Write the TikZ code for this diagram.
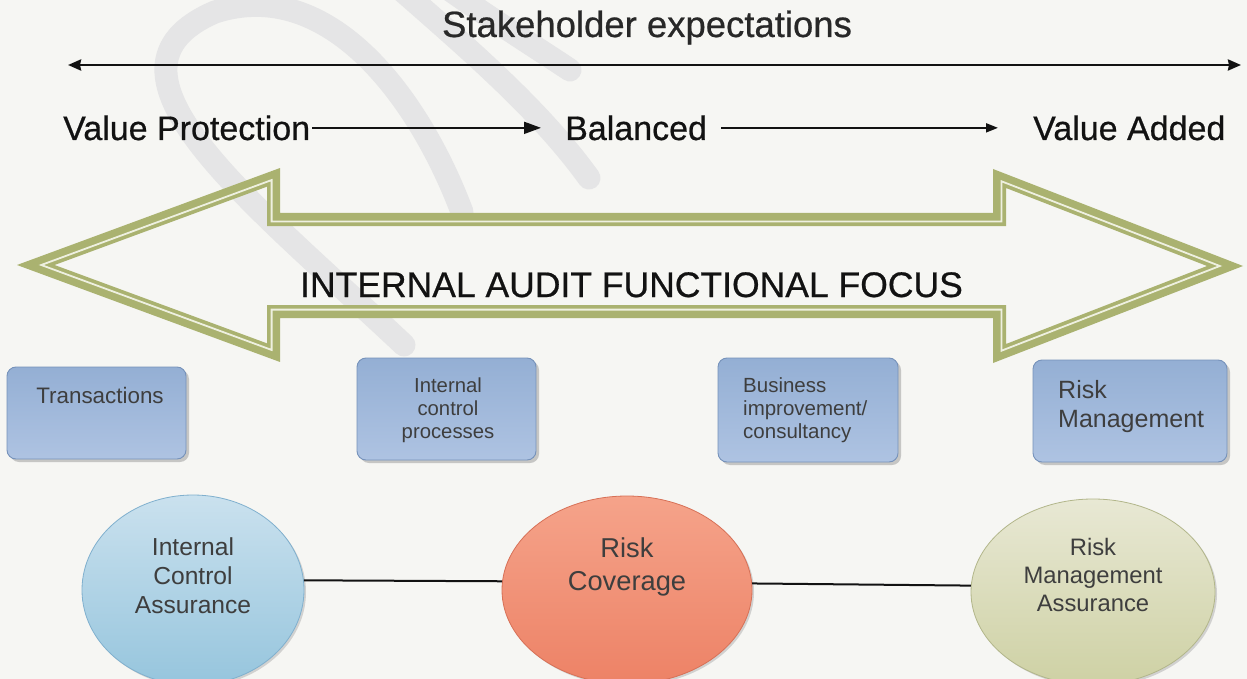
\documentclass[tikz,border=0pt]{standalone}
\usepackage{fontspec}
\setmainfont{Liberation Sans}
\newfontfamily\headfont{Liberation Sans}[FakeBold=0.6]
\usetikzlibrary{arrows.meta,shapes.geometric,shadows}

\definecolor{paper}{RGB}{246,246,243}
\definecolor{wmgray}{RGB}{229,229,230}
\definecolor{olivebd}{RGB}{170,178,112}
\definecolor{olivehl}{RGB}{238,240,224}
\definecolor{ink}{RGB}{18,18,18}
\definecolor{softink}{RGB}{40,40,40}
\definecolor{boxink}{RGB}{62,62,62}
\definecolor{boxedge}{RGB}{118,146,186}
\definecolor{boxtop}{RGB}{148,175,212}
\definecolor{boxmid}{RGB}{206,218,236}
\definecolor{boxbot}{RGB}{174,195,226}
\definecolor{icatop}{RGB}{202,225,238}
\definecolor{icabot}{RGB}{150,197,221}
\definecolor{icaedge}{RGB}{128,176,206}
\definecolor{rctop}{RGB}{245,163,138}
\definecolor{rcbot}{RGB}{237,130,102}
\definecolor{rcedge}{RGB}{215,112,86}
\definecolor{rmatop}{RGB}{232,232,212}
\definecolor{rmabot}{RGB}{206,209,164}
\definecolor{rmaedge}{RGB}{178,182,138}

\newcommand\setfs[1]{\fontsize{#1}{#1}\selectfont}

\tikzset{
  txt/.style={inner sep=0pt, text=ink},
  boxtxt/.style={inner sep=0pt, text=boxink},
  bluebox/.style={rounded corners=9pt, draw=boxedge, line width=0.9pt,
    top color=boxtop, middle color=boxmid, bottom color=boxbot,
    drop shadow={shadow xshift=3pt, shadow yshift=-3pt, fill=gray!75, opacity=0.55}},
  ovalnode/.style={ellipse, inner sep=0pt, line width=0.8pt,
    drop shadow={shadow xshift=2pt, shadow yshift=-2pt, fill=gray!70, opacity=0.45}},
  % outline of the double-headed focus arrow, pushed inwards by #1
  focusarrow/.style={insert path={
    ({17+2.89*#1},265) -- ({280-#1},{168+1.435*#1}) -- ({280-#1},{213+#1})
    -- ({993+#1},{213+#1}) -- ({993+#1},{169+1.46*#1})
    -- ({1243-2.765*#1},266) -- ({993+#1},{363-1.46*#1})
    -- ({993+#1},{318-#1}) -- ({280-#1},{318-#1})
    -- ({280-#1},{362-1.435*#1}) -- cycle}},
  linkline/.style={line width=2pt, draw=ink}
}

\begin{document}
\begin{tikzpicture}[x=1pt,y=-1pt]
\fill[paper] (0,0) rectangle (1247,679);
\useasboundingbox (0,0) rectangle (1247,679);
\clip (0,0) rectangle (1247,679);

% faint grey loops in the background
\begin{scope}[draw=wmgray, line width=23pt, line cap=round]
  \draw (404,345) .. controls (250,200) and (80,70) .. (215,12)
        .. controls (330,-25) and (420,100) .. (462,212);
  \draw (390,-20) .. controls (470,50) and (540,110) .. (589,178);
  \draw (450,-10) .. controls (500,25) and (540,50) .. (570,70);
\end{scope}

% stakeholder expectations scale
\node[txt, text=softink, anchor=base, font=\headfont\setfs{36.5}] (stake) at (647,37) {Stakeholder expectations};
\coordinate (scaleL) at (68,65);
\coordinate (scaleR) at (1241,65);
\draw[line width=2.6pt, draw=ink,
  {Stealth[length=13pt,width=11pt,inset=1pt]}-{Stealth[length=13pt,width=11pt,inset=1pt]}]
  (scaleL) -- (scaleR);

% value progression
\node[txt, anchor=base west, font=\headfont\setfs{34}] (vp) at (63,140) {Value Protection};
\node[txt, anchor=base west, font=\headfont\setfs{34}] (bal) at (565,140) {Balanced};
\node[txt, anchor=base west, font=\headfont\setfs{34}] (va) at (1033,140) {Value Added};
\draw[line width=1.9pt, draw=ink, -{Triangle[length=17pt,width=12pt]},
  shorten <=2pt, shorten >=24pt] (vp.east) -- (bal.west);
\draw[line width=1.9pt, draw=ink, -{Triangle[length=12pt,width=9pt]},
  shorten <=14pt, shorten >=35pt] (bal.east) -- (va.west);

% internal audit functional focus arrow
\draw[olivebd, line width=13pt, line join=miter, focusarrow=6.5];
\draw[olivehl, line width=1.8pt, line join=miter, focusarrow=8.4];
\node[txt, anchor=base, font=\headfont\setfs{35.5}] (focus) at (631.5,297) {INTERNAL AUDIT FUNCTIONAL FOCUS};

% focus areas
\node[bluebox, minimum width=179pt, minimum height=92pt] (trb) at (96.5,413) {};
\node[bluebox, minimum width=179pt, minimum height=102pt] (icb) at (446.5,409) {};
\node[bluebox, minimum width=180pt, minimum height=104pt] (bib) at (808,410) {};
\node[bluebox, minimum width=194pt, minimum height=102pt] (rmb) at (1130,411) {};

\node[boxtxt, anchor=base, font=\setfs{22.4}] (trt) at (100,403) {Transactions};
\node[boxtxt, anchor=base, font=\setfs{20.3}] (ict1) at (448,392) {Internal};
\node[boxtxt, anchor=base, font=\setfs{20.3}] (ict2) at (448,415) {control};
\node[boxtxt, anchor=base, font=\setfs{20.3}] (ict3) at (448,438) {processes};
\node[boxtxt, anchor=base west, font=\setfs{20.5}] (bit1) at (743,392) {Business};
\node[boxtxt, anchor=base west, font=\setfs{20.5}] (bit2) at (743,415) {improvement/};
\node[boxtxt, anchor=base west, font=\setfs{20.5}] (bit3) at (743,438) {consultancy};
\node[boxtxt, anchor=base west, font=\setfs{25}] (rmt1) at (1058,398) {Risk};
\node[boxtxt, anchor=base west, font=\setfs{25}] (rmt2) at (1058,427) {Management};

% assurance outcomes
\node[ovalnode, draw=icaedge, top color=icatop, bottom color=icabot,
  minimum width=222pt, minimum height=190pt] (ica) at (193,590) {};
\node[ovalnode, draw=rcedge, top color=rctop, bottom color=rcbot,
  minimum width=250pt, minimum height=188pt] (rc) at (627,590) {};
\node[ovalnode, draw=rmaedge, top color=rmatop, bottom color=rmabot,
  minimum width=244pt, minimum height=186pt] (rma) at (1093,592) {};

\draw[linkline] (ica.5) -- (rc.176);
\draw[linkline] (rc.3) -- (rma.177);

\node[boxtxt, anchor=base, font=\setfs{24.6}] (icat1) at (193,555) {Internal};
\node[boxtxt, anchor=base, font=\setfs{24.6}] (icat2) at (193,584) {Control};
\node[boxtxt, anchor=base, font=\setfs{24.6}] (icat3) at (193,613) {Assurance};
\node[boxtxt, anchor=base, font=\setfs{27.3}] (rct1) at (627,557) {Risk};
\node[boxtxt, anchor=base, font=\setfs{27.3}] (rct2) at (627,590) {Coverage};
\node[boxtxt, anchor=base, font=\setfs{23.8}] (rmat1) at (1093,555) {Risk};
\node[boxtxt, anchor=base, font=\setfs{23.8}] (rmat2) at (1093,583) {Management};
\node[boxtxt, anchor=base, font=\setfs{23.8}] (rmat3) at (1093,611) {Assurance};
\end{tikzpicture}
\end{document}
